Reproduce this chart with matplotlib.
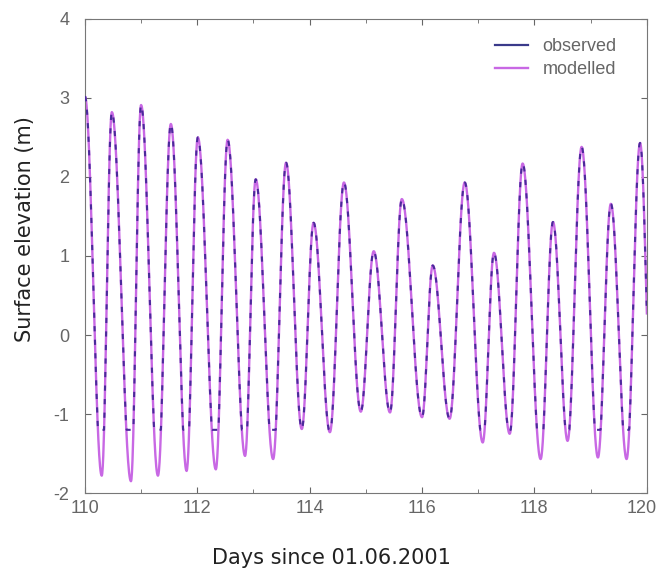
import numpy as np
import matplotlib
matplotlib.use("Agg")
import matplotlib.pyplot as plt
from matplotlib.transforms import ScaledTranslation

plt.rcParams["font.family"] = ["Liberation Sans", "DejaVu Sans"]
plt.rcParams["axes.unicode_minus"] = False

# Extremes (high / low water), days since 01.06.2001
peak_days = [110.00, 110.48, 111.00, 111.53, 112.01, 112.54, 113.04, 113.58, 114.07, 114.61,
             115.14, 115.64, 116.19, 116.76, 117.28, 117.79, 118.33, 118.84, 119.36, 119.88]
peak_model = [3.02, 2.82, 2.91, 2.67, 2.50, 2.47, 1.97, 2.18, 1.42, 1.93,
              1.06, 1.72, 0.88, 1.93, 1.04, 2.17, 1.43, 2.38, 1.66, 2.43]
trough_days = [110.30, 110.82, 111.30, 111.81, 112.33, 112.85, 113.35, 113.86, 114.36, 114.91,
               115.43, 116.00, 116.49, 117.08, 117.56, 118.11, 118.59, 119.13, 119.64, 120.10]
trough_model = [-1.78, -1.85, -1.78, -1.72, -1.70, -1.53, -1.57, -1.19, -1.23, -0.97,
                -0.98, -1.04, -1.06, -1.36, -1.25, -1.57, -1.34, -1.55, -1.57, -1.30]
# observed gauge record bottoms out at this level
obs_floor = -1.2

x_ticks = [110, 112, 114, 116, 118, 120]
y_ticks = [-2, -1, 0, 1, 2, 3, 4]


def tidal_curve(pd_, pv, td, tv, n=40):
    ext_t = np.array(sorted(list(pd_) + list(td)))
    order = np.argsort(list(pd_) + list(td))
    ext_v = np.array(list(pv) + list(tv))[order]
    ts, vs = [], []
    for i in range(len(ext_t) - 1):
        s = np.linspace(0, 1, n, endpoint=False)
        w = (1 - np.cos(np.pi * s)) / 2
        ts.append(ext_t[i] + (ext_t[i + 1] - ext_t[i]) * s)
        vs.append(ext_v[i] + (ext_v[i + 1] - ext_v[i]) * w)
    return np.concatenate(ts), np.concatenate(vs)


t, modelled = tidal_curve(peak_days, peak_model, trough_days, trough_model)
observed = np.maximum(modelled, obs_floor)

fig = plt.figure(figsize=(6.58, 5.72), dpi=100)
ax = fig.add_axes([0.129, 0.138, 0.854, 0.829])

ax.plot(t, modelled, color="#c868e4", lw=1.7, label="modelled", zorder=2)
ax.plot(t, observed, color="#4a2a9a", lw=1.5, dashes=(2.5, 4), zorder=3)
ax.plot([], [], color="#3a3a8a", lw=1.6, label="observed")

ax.set_xlim(110, 120)
ax.set_ylim(-2, 4)
ax.set_xticks(x_ticks)
ax.set_xticks(np.arange(110, 121, 1), minor=True)
ax.set_yticks(y_ticks)
ax.tick_params(which="both", direction="in", top=True, right=True, colors="#666666",
               labelcolor="#666666", labelsize=13, length=4)
ax.tick_params(axis="x", pad=5)
ax.tick_params(axis="y", pad=11)
ax.tick_params(which="minor", length=3)
for sp in ax.spines.values():
    sp.set_color("#777777")
for lab in ax.get_xticklabels():
    if lab.get_text() == "120":
        lab.set_horizontalalignment("right")
        lab.set_transform(lab.get_transform() + ScaledTranslation(0.10, 0, fig.dpi_scale_trans))

ax.set_xlabel("Days since 01.06.2001", fontsize=15, color="#222222", family="DejaVu Sans")
ax.xaxis.set_label_coords(0.438, -0.116)
ax.set_ylabel("Surface elevation (m)", fontsize=15, color="#222222", family="DejaVu Sans")
ax.yaxis.set_label_coords(-0.089, 0.557)

h, l = ax.get_legend_handles_labels()
ax.legend([h[1], h[0]], [l[1], l[0]], loc="upper right", frameon=False, fontsize=13,
          labelcolor="#666666", handlelength=1.8, handletextpad=0.8, labelspacing=0.3,
          bbox_to_anchor=(0.975, 0.993))

fig.savefig("out.png", dpi=100)
